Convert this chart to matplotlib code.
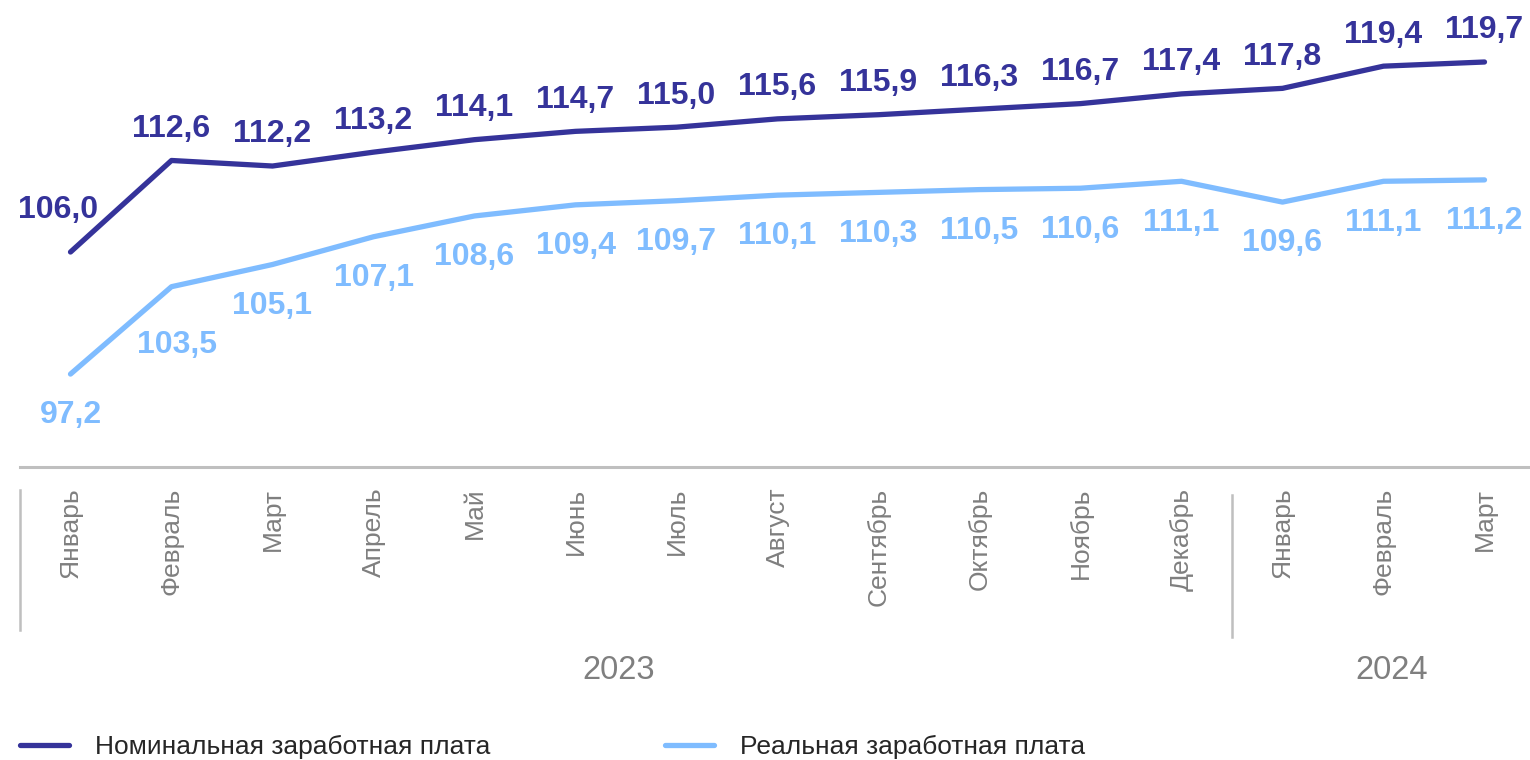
import matplotlib.pyplot as plt
from matplotlib.lines import Line2D

plt.rcParams['font.family'] = ['Liberation Sans', 'DejaVu Sans']

# Data
months = ['Январь', 'Февраль', 'Март', 'Апрель', 'Май', 'Июнь', 'Июль', 'Август',
          'Сентябрь', 'Октябрь', 'Ноябрь', 'Декабрь', 'Январь', 'Февраль', 'Март']
years = ['2023', '2024']
year_centers = [5.43, 13.08]
nominal = [106.0, 112.6, 112.2, 113.2, 114.1, 114.7, 115.0, 115.6, 115.9, 116.3, 116.7, 117.4, 117.8, 119.4, 119.7]
real = [97.2, 103.5, 105.1, 107.1, 108.6, 109.4, 109.7, 110.1, 110.3, 110.5, 110.6, 111.1, 109.6, 111.1, 111.2]

dark = '#35339A'
light = '#7FBCFF'
gray = '#7F7F7F'
axis_gray = '#BFBFBF'

fig = plt.figure(figsize=(15.3, 7.6), dpi=100)
W, H = 1530, 760
ax = fig.add_axes([20 / W, (H - 467) / H, 1515 / W, 467 / H])

x = list(range(len(months)))
ax.plot(x, nominal, color=dark, lw=3.8, solid_capstyle='round', solid_joinstyle='round',
        label='Номинальная заработная плата')
ax.plot(x, real, color=light, lw=3.8, solid_capstyle='round', solid_joinstyle='round',
        label='Реальная заработная плата')

ax.set_xlim(-0.5, 14.5)
ax.set_ylim(90.5, 124.17)

# data labels
for i, v in enumerate(nominal):
    off = (0, 17)
    if i == 0:
        off = (-9, 24.5)
    ax.annotate(f'{v:.1f}'.replace('.', ','), (i, v), xytext=off, textcoords='offset points',
                ha='center', va='baseline', fontsize=23, fontweight='bold', color=dark)
for i, v in enumerate(real):
    off = (0, -35.5)
    if i == 0:
        off = (0, -35)
    if i == 1:
        off = (4, -48)
    ax.annotate(f'{v:.1f}'.replace('.', ','), (i, v), xytext=off, textcoords='offset points',
                ha='center', va='baseline', fontsize=23, fontweight='bold', color=light)

# axes styling
for s in ['top', 'right', 'left']:
    ax.spines[s].set_visible(False)
ax.spines['bottom'].set_color(axis_gray)
ax.spines['bottom'].set_linewidth(2.2)
ax.set_yticks([])
ax.set_xticks(x)
ax.set_xticklabels(months, rotation=90, fontsize=19, color=gray)
ax.tick_params(axis='x', length=0, pad=15)

# year separators and labels
tr = ax.get_xaxis_transform()
for sx, y0, y1 in [(-0.5, -0.049, -0.35), (11.5, -0.06, -0.365)]:
    ax.add_line(Line2D([sx, sx], [y0, y1], transform=tr, color=axis_gray, lw=1.8, clip_on=False))
for yc, yl in zip(year_centers, years):
    ax.text(yc, -0.435, yl, transform=tr, ha='center', va='center', fontsize=23.5, color=gray)

leg = fig.legend(loc='center left', bbox_to_anchor=(20 / W, (H - 747) / H), ncol=2, frameon=False,
                 fontsize=19, handlelength=1.85, handletextpad=1.0, columnspacing=6.62,
                 borderpad=0, borderaxespad=0)
for t in leg.get_texts():
    t.set_color('#262626')

fig.savefig('out.png', dpi=100)
